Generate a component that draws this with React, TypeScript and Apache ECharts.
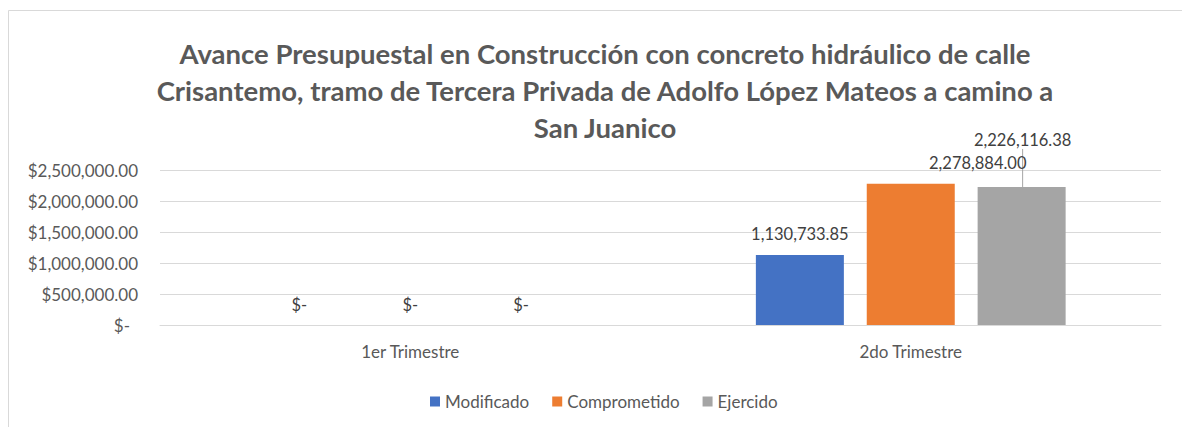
import React, { useEffect, useRef } from "react";
import * as echarts from "echarts";

const categories = ["1er Trimestre", "2do Trimestre"];
const seriesNames = ["Modificado", "Comprometido", "Ejercido"];
const modificado = [0, 1130733.85];
const comprometido = [0, 2278884.0];
const ejercido = [0, 2226116.38];
const colors = ["#4472c4", "#ed7d31", "#a5a5a5"];
const titleText =
  "Avance Presupuestal en Construcción con concreto hidráulico de calle\nCrisantemo, tramo de Tercera Privada de Adolfo López Mateos a camino a\nSan Juanico";

const FONT = "Lato";
const TXT = "#595959";
const FS = 17;

const fmtNum = (v: number) =>
  v === 0
    ? "$-"
    : v.toLocaleString("en-US", { minimumFractionDigits: 2, maximumFractionDigits: 2 });

export default function App() {
  const ref = useRef<HTMLDivElement>(null);
  useEffect(() => {
    if (!ref.current) return;
    const chart = echarts.init(ref.current, null, { renderer: "svg" });
    const labelBase = {
      show: true,
      position: "top",
      distance: 12,
      color: "#404040",
      fontSize: 16.5,
      fontFamily: FONT,
      formatter: (p: any) => fmtNum(p.value),
    };
    const all = [modificado, comprometido, ejercido];
    chart.setOption({
      animation: false,
      textStyle: { fontFamily: FONT },
      title: {
        text: titleText,
        left: 600,
        top: 30,
        textAlign: "center",
        textStyle: {
          fontFamily: FONT,
          fontSize: 27.5,
          fontWeight: "bold",
          color: TXT,
          lineHeight: 37,
        },
      },
      graphic: [
        {
          type: "rect",
          shape: { x: 8.5, y: 10.5, width: 1400, height: 600 },
          style: { fill: "none", stroke: "#d9d9d9", lineWidth: 1 },
          silent: true,
        },
      ],
      legend: {
        data: seriesNames,
        left: 425,
        top: 388,
        itemWidth: 10,
        itemHeight: 10,
        itemGap: 23,
        icon: "rect",
        textStyle: { color: TXT, fontSize: FS, fontFamily: FONT },
      },
      grid: { left: 160, right: 21, top: 170, bottom: 102, containLabel: false },
      xAxis: {
        type: "category",
        data: categories,
        axisLine: { lineStyle: { color: "#d9d9d9" } },
        axisTick: { show: false },
        axisLabel: { color: TXT, fontSize: FS, fontFamily: FONT, margin: 18 },
      },
      yAxis: {
        type: "value",
        min: 0,
        max: 2500000,
        interval: 500000,
        axisLine: { show: false },
        axisTick: { show: false },
        splitLine: { lineStyle: { color: "#d9d9d9", width: 1 } },
        axisLabel: {
          color: TXT,
          fontSize: FS,
          fontFamily: FONT,
          margin: 22,
          formatter: (v: number) =>
            v === 0
              ? "{z|$-}"
              : "$" + v.toLocaleString("en-US", { minimumFractionDigits: 2 }),
          rich: {
            z: { color: TXT, fontSize: FS, fontFamily: FONT, padding: [0, 8, 0, 0] },
          },
        },
      },
      series: seriesNames.map((name, si) => ({
        name,
        type: "bar",
        barWidth: 88,
        barGap: "26%",
        itemStyle: { color: colors[si] },
        label: labelBase,
        labelLine: { show: false, lineStyle: { color: "#a5a5a5", width: 1 } },
        labelLayout:
          si === 2
            ? (p: any) => (p.dataIndex === 1 ? { dy: -26, dx: 1 } : {})
            : undefined,
        data: all[si].map((v, di) => {
          if (si === 1 && di === 1) {
            return { value: v, label: { offset: [67, 0] } };
          }
          if (si === 2 && di === 1) {
            return { value: v, labelLine: { show: true } };
          }
          return { value: v };
        }),
      })),
    });
    return () => chart.dispose();
  }, []);
  return (
    <div
      ref={ref}
      style={{ position: "fixed", left: 0, top: 0, width: 1182, height: 427, background: "#fff" }}
    />
  );
}
